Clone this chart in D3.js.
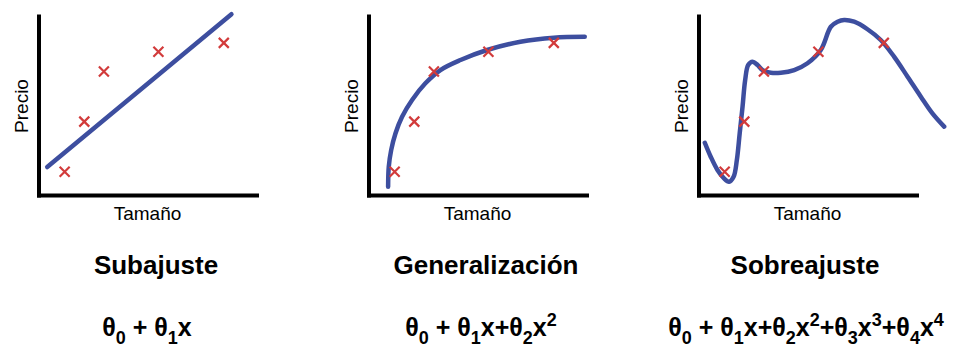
<!DOCTYPE html>
<html>
<head>
<meta charset="utf-8">
<script src="https://cdn.jsdelivr.net/npm/d3@7"></script>
<style>
  body { margin: 0; background: #fff; }
  svg { display: block; font-family: "Liberation Sans", Arial, sans-serif; }
</style>
</head>
<body>
<div id="chart"></div>
<script>
// the same five samples appear in every panel (size, price on a 0-100 scale)
const sizes = [12, 21, 30, 55, 85];
const prices = [13, 41, 69, 80, 85];

const titles = ["Subajuste", "Generalización", "Sobreajuste"];
const xLabel = "Tamaño";
const yLabel = "Precio";

// fitted curves
const fitLinX = [4, 88.5];
const fitLinY = [15.6, 101];

const fitQuadX = [9.0, 9.3, 10.4, 12.4, 15.4, 20.0, 26.1, 33.0, 42.2, 54.4, 69.7, 85.0, 99.2];
const fitQuadY = [4.6, 15.8, 25.1, 34.5, 43.7, 53.1, 62.4, 69.8, 75.4, 81.0, 85.6, 87.9, 88.4];

const fitPolyX = [2.9, 5.6, 8.7, 11.7, 14.0, 16.1, 17.6, 18.9, 20.2, 21.4, 22.8, 24.8, 27.1, 29.4, 33.2,
    37.8, 43.9, 50.0, 56.1, 60.7, 63.8, 66.8, 71.4, 77.5, 83.6, 89.7, 95.9, 102.0, 107.3, 112.7];
const fitPolyY = [29.2, 21.4, 14.0, 9.3, 7.4, 10.2, 19.6, 34.5, 49.3, 64.2, 72.6, 74.5, 72.6, 69.8, 68.3,
    68.3, 69.8, 73.6, 81.0, 94.0, 96.8, 97.8, 96.8, 92.6, 86.6, 77.3, 66.1, 54.9, 45.6, 38.2];

// formulas: [text, "" | "sub" | "sup"]
const formula1 = [["θ", ""], ["0", "sub"], [" + θ", ""], ["1", "sub"], ["x", ""]];
const formula2 = [["θ", ""], ["0", "sub"], [" + θ", ""], ["1", "sub"], ["x+θ", ""], ["2", "sub"], ["x", ""], ["2", "sup"]];
const formula3 = [["θ", ""], ["0", "sub"], [" + θ", ""], ["1", "sub"], ["x+θ", ""], ["2", "sub"], ["x", ""], ["2", "sup"],
    ["+θ", ""], ["3", "sub"], ["x", ""], ["3", "sup"], ["+θ", ""], ["4", "sub"], ["x", ""], ["4", "sup"]];

const fitsX = [fitLinX, fitQuadX, fitPolyX];
const fitsY = [fitLinY, fitQuadY, fitPolyY];
const formulas = [formula1, formula2, formula3];

const width = 956;
const height = 347;
const panelLeft = [38.5, 368.5, 698.5];
const titleX = [156, 486, 805];
const formulaX = [147, 481, 806];

const blue = "#3d4e9f";
const red = "#d23b3b";

const svg = d3.select("#chart")
    .append("svg")
    .attr("width", width)
    .attr("height", height);

const x = d3.scaleLinear().domain([0, 100]).range([0, 218]);
const y = d3.scaleLinear().domain([0, 100]).range([195, 16]);

const line = d3.line()
    .x((d) => x(d[0]))
    .y((d) => y(d[1]))
    .curve(d3.curveCatmullRom);

titles.forEach((title, i) => {
    const g = svg.append("g")
        .attr("transform", `translate(${panelLeft[i]},0)`);

    // axes: just the two black lines, no ticks
    g.append("g")
        .attr("transform", `translate(0,${y(0)})`)
        .call(d3.axisBottom(x).ticks(0).tickSizeOuter(0));
    g.append("g")
        .call(d3.axisLeft(y).ticks(0).tickSizeOuter(0));
    g.selectAll(".domain")
        .attr("stroke", "#000")
        .attr("stroke-width", 4)
        .attr("stroke-linecap", "square");

    // fitted curve
    const pts = fitsX[i].map((v, k) => [v, fitsY[i][k]]);
    g.append("path")
        .attr("d", line(pts))
        .attr("fill", "none")
        .attr("stroke", blue)
        .attr("stroke-width", 4.5)
        .attr("stroke-linecap", "round");

    // sample points as red crosses
    const s = 5;
    const marks = g.selectAll(".mark")
        .data(sizes)
        .enter().append("g")
        .attr("class", "mark")
        .attr("transform", (d, k) => `translate(${x(d)},${y(prices[k])})`);
    marks.append("path")
        .attr("d", `M${-s},${-s}L${s},${s}M${s},${-s}L${-s},${s}`)
        .attr("stroke", red)
        .attr("stroke-width", 2.2)
        .attr("fill", "none");

    // axis labels
    g.append("text")
        .attr("x", 109)
        .attr("y", 220)
        .attr("text-anchor", "middle")
        .style("font-size", "19px")
        .text(xLabel);
    g.append("text")
        .attr("transform", "translate(-11,106) rotate(-90)")
        .attr("text-anchor", "middle")
        .style("font-size", "19px")
        .text(yLabel);

    // title
    svg.append("text")
        .attr("x", titleX[i])
        .attr("y", 274)
        .attr("text-anchor", "middle")
        .style("font-size", "26px")
        .style("font-weight", "bold")
        .text(title);

    // formula with sub/superscripts
    const f = svg.append("text")
        .attr("x", formulaX[i])
        .attr("y", 336)
        .attr("text-anchor", "middle")
        .style("font-size", "25px")
        .style("font-weight", "bold");
    let shift = 0;
    formulas[i].forEach(([t, kind]) => {
        const target = kind === "sub" ? 8 : kind === "sup" ? -10 : 0;
        f.append("tspan")
            .attr("dy", target - shift)
            .style("font-size", kind ? "18px" : "25px")
            .text(t);
        shift = target;
    });
});
</script>
</body>
</html>
